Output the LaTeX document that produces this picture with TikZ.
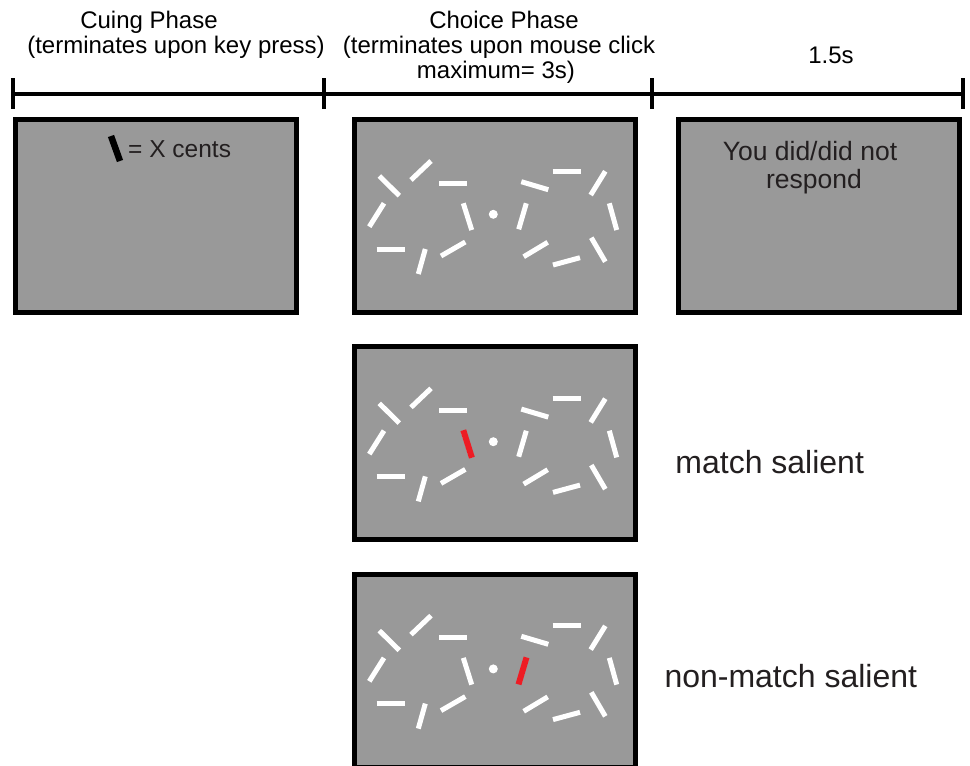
\documentclass[tikz,border=0pt]{standalone}
\usepackage{fontspec}
\setmainfont{Liberation Sans}
\definecolor{screengray}{HTML}{999999}
\definecolor{txt}{HTML}{231F20}
\definecolor{salred}{HTML}{ED1C24}
\tikzset{
  screen/.style={draw=black, line width=5pt, fill=screengray, minimum width=281pt, minimum height=193pt, inner sep=0pt},
  whitebar/.style={white, line width=5pt},
  redbar/.style={salred, line width=6pt},
  cuebar/.style={black, line width=6.5pt},
  fix/.style={circle, fill=white, draw=none, minimum size=9pt, inner sep=0pt},
  hdr/.style={font=\fontsize{24}{24}\selectfont, inner sep=0pt, anchor=base, text=black},
  scr/.style={font=\fontsize{26.5}{26.5}\selectfont, inner sep=0pt, anchor=base, text=txt},
  cond/.style={font=\fontsize{32}{32}\selectfont, inner sep=0pt, anchor=base, text=txt},
  timeline/.style={black, line width=4.5pt},
}
\newcommand\drawbars[1]{%
  \begin{scope}[shift={(#1)}]
    \draw[whitebar] (-114,-38.3) -- (-94,-18.6);
    \draw[whitebar] (-82.3,-34.3) -- (-62.3,-53.3);
    \draw[whitebar] (-54.3,-31) -- (-26.3,-31);
    \draw[whitebar] (-124,12.4) -- (-109.3,-11);
    \draw[whitebar] (-30,-11) -- (-21.6,15.7);
    \draw[whitebar] (-116.6,35) -- (-88.6,35);
    \draw[whitebar] (-75,59.7) -- (-68,34.7);
    \draw[whitebar] (-52.3,41.7) -- (-28,27.7);
    \draw[whitebar] (28,-32.6) -- (55,-24.6);
    \draw[whitebar] (59.4,-43.3) -- (87.4,-43.3);
    \draw[whitebar] (97.4,-19.3) -- (112,-43);
    \draw[whitebar] (25.4,15) -- (33,-11);
    \draw[whitebar] (116,-11) -- (123.4,15.7);
    \draw[whitebar] (30.4,42.4) -- (54.4,28);
    \draw[whitebar] (59.7,50.7) -- (86.7,43.4);
    \draw[whitebar] (98,23.4) -- (112,47.4);
  \end{scope}}
\begin{document}
\begin{tikzpicture}[x=1pt, y=-1pt]
  \useasboundingbox (0,0) rectangle (970,766);
  \clip (0,0) rectangle (970,766);
  \fill[white] (0,0) rectangle (970,766);

  % timeline
  \coordinate (t0) at (13,94);
  \coordinate (t1) at (324,94);
  \coordinate (t2) at (652,94);
  \coordinate (t3) at (963,94);
  \draw[timeline] (t0) -- (t3);
  \foreach \t in {t0,t1,t2,t3}{
    \draw[timeline] ([yshift=16pt]\t) -- ([yshift=-15pt]\t);
  }

  % headers
  \node[hdr] (h1a) at (149,28) {Cuing Phase};
  \node[hdr] (h1b) at (176,53) {(terminates upon key press)};
  \node[hdr] (h2a) at (504,28) {Choice Phase};
  \node[hdr] (h2b) at (499,53) {(terminates upon mouse click};
  \node[hdr] (h2c) at (496,78) {maximum= 3s)};
  \node[hdr] (h3) at (831,63) {1.5s};

  % screens
  \node[screen] (cue) at (156,215.5) {};
  \node[screen] (choice) at (495,216) {};
  \node[screen] (feedback) at (818.5,215.5) {};
  \node[screen] (match) at (495,443) {};
  \node[screen] (nonmatch) at (495,670.5) {};

  % cue screen
  \coordinate (cb1) at (111,136);
  \coordinate (cb2) at (120,161);
  \draw[cuebar] (cb1) -- (cb2);
  \node[scr, anchor=base west, font=\fontsize{24.5}{24.5}\selectfont] (cents) at (128,157) {= X cents};

  % feedback screen
  \node[scr] (fb1) at (810,160) {You did/did not};
  \node[scr] (fb2) at (814,188) {respond};

  % stimulus displays
  \node[fix] (dot1) at (493.3,214.3) {};
  \node[fix] (dot2) at (493.3,441.7) {};
  \node[fix] (dot3) at (493.3,668.9) {};
  \drawbars{dot1}
  \drawbars{dot2}
  \drawbars{dot3}
  \draw[redbar] ([shift={(-30,-11.5)}]dot2.center) -- ([shift={(-21.4,16)}]dot2.center);
  \draw[redbar] ([shift={(25.2,15.5)}]dot3.center) -- ([shift={(33.2,-11.5)}]dot3.center);

  % condition labels
  \node[cond] (lm) at (769.7,473) {match salient};
  \node[cond] (lnm) at (790.8,687) {non-match salient};
\end{tikzpicture}
\end{document}
